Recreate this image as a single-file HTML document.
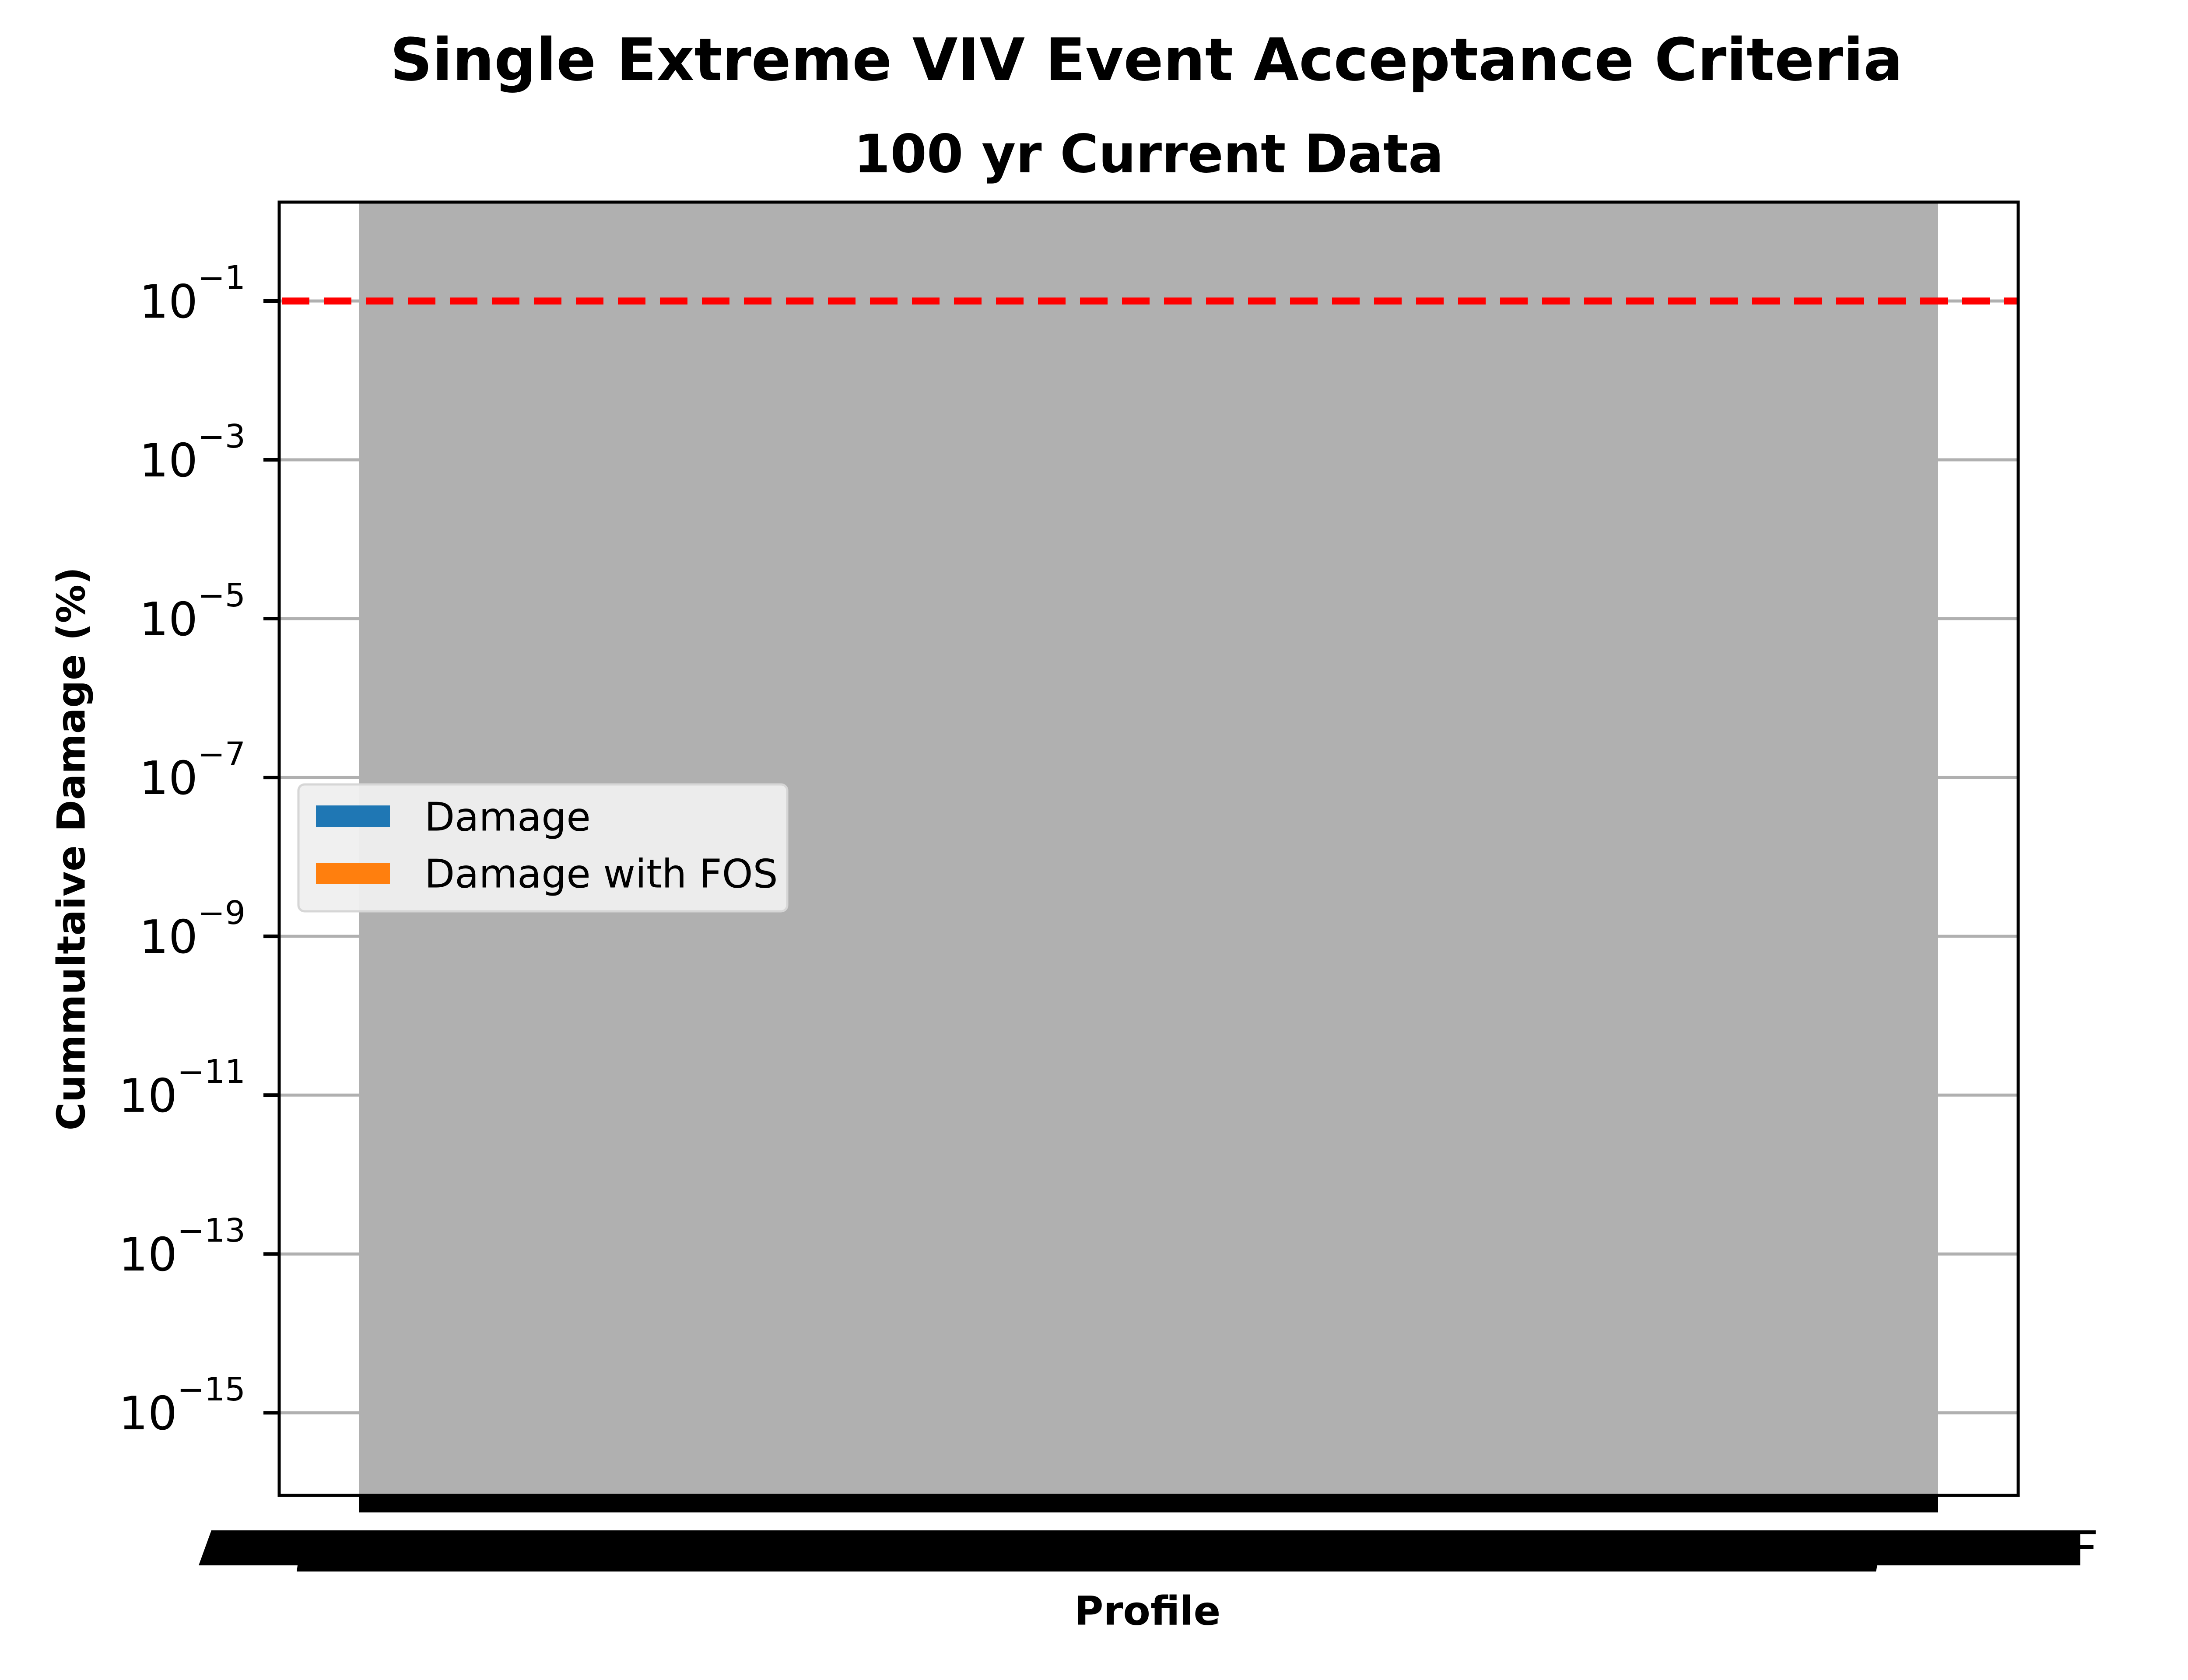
<!DOCTYPE html>
<html><head><meta charset="utf-8">
<style>
html,body{margin:0;padding:0;background:#fff;}
svg{display:block;font-family:"DejaVu Sans","Liberation Sans",sans-serif;}
</style></head>
<body>
<svg id="chart" width="5120" height="3840" viewBox="0 0 5120 3840" xmlns="http://www.w3.org/2000/svg">
<rect x="0" y="0" width="5120" height="3840" fill="#fff"/>
<text x="2620" y="137" font-size="134" font-weight="bold" text-anchor="middle" dominant-baseline="central">Single Extreme VIV Event Acceptance Criteria</text>
<text x="2625" y="353" font-size="120" font-weight="bold" text-anchor="middle" dominant-baseline="central">100 yr Current Data</text>
<g id="grid"></g>
<g id="bars"></g>
<g id="ref"></g>
<g id="yaxis"></g>
<rect x="638" y="462" width="3974" height="2956" fill="none" stroke="#000" stroke-width="7"/>
<g>
<rect x="820" y="3421" width="3609" height="36" fill="#000"/>
<polygon points="483,3498 4754,3498 4754,3578 454,3578" fill="#000"/>
<rect x="4750" y="3498" width="39" height="9" fill="#000"/>
<rect x="4750" y="3531" width="34" height="9" fill="#000"/>
<polygon points="680,3578 4290,3578 4287,3592 678,3592" fill="#000"/>
</g>
<text x="2622" y="3683" font-size="91" font-weight="bold" text-anchor="middle" dominant-baseline="central">Profile</text>
<text x="0" y="0" font-size="88" font-weight="bold" text-anchor="middle" dominant-baseline="central" transform="translate(163,1940) rotate(-90)">Cummultaive Damage (%)</text>
<g>
<rect x="682" y="1793" width="1117" height="290" rx="14" fill="#efefef" fill-opacity="0.95" stroke="#d6d6d6" stroke-width="5"/>
<rect x="722" y="1841" width="169" height="49" fill="#1f77b4"/>
<text x="970" y="1868" font-size="90" dominant-baseline="central">Damage</text>
<rect x="722" y="1972" width="169" height="49" fill="#ff7f0e"/>
<text x="970" y="1998" font-size="90" dominant-baseline="central">Damage with FOS</text>
</g>
</svg>
<script>
const categories = ["All profiles"];
const damageValues = [10];
const yTickExponents = [-1, -3, -5, -7, -9, -11, -13, -15];
const acceptanceLimit = [0.1];

const NS = "http://www.w3.org/2000/svg";
const plot = {left: 638, right: 4612, top: 462, bottom: 3418};
const logMax = 0.245, logMin = -16.04;
function yScale(v) {
  const l = Math.log10(v);
  return plot.top + (logMax - l) / (logMax - logMin) * (plot.bottom - plot.top);
}
function clampY(y) { return Math.max(plot.top, Math.min(plot.bottom, y)); }
const bandLeft = 820, bandRight = 4429;
function xBand(i) {
  const w = (bandRight - bandLeft) / categories.length;
  return {x: bandLeft + i * w, w: w};
}
function mk(tag, attrs) {
  const e = document.createElementNS(NS, tag);
  for (const k in attrs) e.setAttribute(k, attrs[k]);
  return e;
}
const grid = document.getElementById("grid");
const yaxis = document.getElementById("yaxis");
yTickExponents.forEach(function (ex) {
  const y = yScale(Math.pow(10, ex));
  const g = mk("line", {x1: plot.left, x2: plot.right, y1: y, y2: y, stroke: "#b0b0b0", "stroke-width": 7});
  
  
  grid.appendChild(g);
  const t = mk("line", {x1: plot.left - 36, x2: plot.left, y1: y, y2: y, stroke: "#000", "stroke-width": 8});
  
  
  yaxis.appendChild(t);
  const txt = mk("text", {x: 561, y: y + 38, "font-size": 105, "text-anchor": "end"});
  
  
  const base = mk("tspan", {});
  base.textContent = "10";
  const sup = mk("tspan", {"font-size": 74, dy: -66});
  sup.textContent = "\u2212" + Math.abs(ex);
  txt.appendChild(base); txt.appendChild(sup);
  yaxis.appendChild(txt);
});
const bars = document.getElementById("bars");
categories.forEach(function (c, i) {
  const b = xBand(i);
  const y = clampY(yScale(damageValues[i]));
  const r = mk("rect", {x: b.x, y: y, width: b.w, height: plot.bottom - y, fill: "#b0b0b0"});
  
  
  bars.appendChild(r);
});
const ref = document.getElementById("ref");
acceptanceLimit.forEach(function (v) {
  const y = yScale(v);
  const l = mk("line", {x1: plot.left + 6, x2: plot.right, y1: y, y2: y, stroke: "#ff0000", "stroke-width": 16, "stroke-dasharray": "63 33"});
  
  
  ref.appendChild(l);
});
</script>
</body></html>
